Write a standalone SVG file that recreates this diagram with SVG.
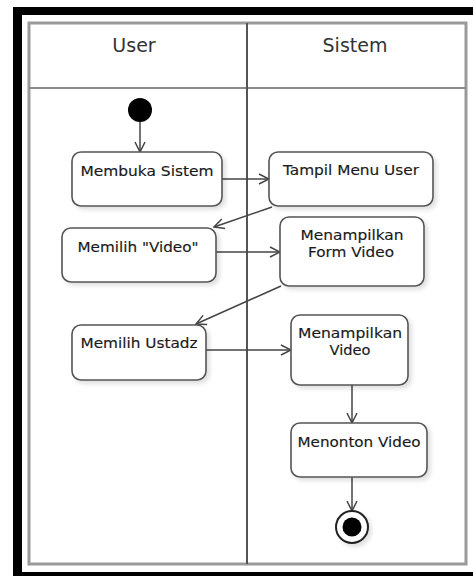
<svg xmlns="http://www.w3.org/2000/svg" width="473" height="576" viewBox="0 0 473 576">
  <style>
    .lane { fill: none; stroke: #9a9a9a; stroke-width: 3; }
    .divider { stroke: #555; stroke-width: 2; }
    .head { font-family: "DejaVu Sans", Verdana, sans-serif; font-size: 19px; fill: #333; text-anchor: middle; }
    .act rect { fill: #fff; stroke: #555; stroke-width: 1.6; filter: url(#shadow); }
    .act text { font-family: "DejaVu Sans", Verdana, sans-serif; font-size: 14px; fill: #1a1a1a; stroke: #1a1a1a; stroke-width: 0.15; text-anchor: middle; }
    .edge { fill: none; stroke: #444; stroke-width: 1.5; marker-end: url(#open); }
  </style>
  <defs>
    <marker id="open" viewBox="0 0 12 12" refX="11" refY="6" markerWidth="12" markerHeight="12" markerUnits="userSpaceOnUse" orient="auto">
      <path d="M1,1 L11,6 L1,11" fill="none" stroke="#444" stroke-width="1.5"/>
    </marker>
    <filter id="shadow" x="-10%" y="-10%" width="125%" height="135%">
      <feDropShadow dx="3" dy="3" stdDeviation="2" flood-color="#000" flood-opacity="0.12"/>
    </filter>
  </defs>

  <rect width="473" height="576" fill="#fff"/>

  <!-- outer frame -->
  <rect x="13" y="7" width="460" height="8" fill="#000"/>
  <rect x="13" y="7" width="9" height="569" fill="#000"/>
  <rect x="13" y="572" width="460" height="4" fill="#000"/>

  <!-- swimlanes -->
  <g id="lanes">
    <rect class="lane" x="29" y="23" width="437" height="541"/>
    <line x1="29" y1="88" x2="466" y2="88" stroke="#8a8a8a" stroke-width="2"/>
    <line class="divider" x1="247" y1="23" x2="247" y2="564"/>
    <text class="head" x="134" y="52">User</text>
    <text class="head" x="355" y="52">Sistem</text>
  </g>

  <!-- connectors -->
  <g id="connectors">
    <line class="edge" x1="140" y1="122" x2="140" y2="152"/>
    <line class="edge" x1="222" y1="179" x2="269" y2="179"/>
    <line class="edge" x1="272" y1="207" x2="214" y2="227"/>
    <line class="edge" x1="216" y1="252" x2="280" y2="252"/>
    <line class="edge" x1="281" y1="286" x2="196" y2="324"/>
    <line class="edge" x1="206" y1="350" x2="291" y2="350"/>
    <line class="edge" x1="352" y1="385" x2="352" y2="423"/>
    <line class="edge" x1="352" y1="477" x2="352" y2="511"/>
  </g>

  <!-- start node -->
  <g id="start">
    <circle cx="140" cy="110" r="12" fill="#000"/>
  </g>

  <g id="membuka-sistem" class="act">
    <rect x="72" y="152" width="150" height="54" rx="9"/>
    <text x="147" y="176" textLength="133" lengthAdjust="spacingAndGlyphs">Membuka Sistem</text>
  </g>

  <g id="tampil-menu-user" class="act">
    <rect x="269" y="152" width="164" height="54" rx="9"/>
    <text x="351" y="175" textLength="136" lengthAdjust="spacingAndGlyphs">Tampil Menu User</text>
  </g>

  <g id="memilih-video" class="act">
    <rect x="62" y="228" width="154" height="54" rx="9"/>
    <text x="138" y="252" textLength="121" lengthAdjust="spacingAndGlyphs">Memilih "Video"</text>
  </g>

  <g id="form-video" class="act">
    <rect x="280" y="217" width="144" height="69" rx="9"/>
    <text x="352" y="240" textLength="103" lengthAdjust="spacingAndGlyphs">Menampilkan</text>
    <text x="351" y="257" textLength="86" lengthAdjust="spacingAndGlyphs">Form Video</text>
  </g>

  <g id="memilih-ustadz" class="act">
    <rect x="72" y="325" width="134" height="55" rx="9"/>
    <text x="139" y="348" textLength="117" lengthAdjust="spacingAndGlyphs">Memilih Ustadz</text>
  </g>

  <g id="menampilkan-video" class="act">
    <rect x="291" y="315" width="117" height="70" rx="9"/>
    <text x="350" y="338" textLength="104" lengthAdjust="spacingAndGlyphs">Menampilkan</text>
    <text x="350" y="355" textLength="41" lengthAdjust="spacingAndGlyphs">Video</text>
  </g>

  <g id="menonton-video" class="act">
    <rect x="291" y="423" width="136" height="54" rx="9"/>
    <text x="359" y="447" textLength="123" lengthAdjust="spacingAndGlyphs">Menonton Video</text>
  </g>

  <!-- end node -->
  <g id="end">
    <circle cx="352" cy="527" r="16" fill="#fff" stroke="#222" stroke-width="2" filter="url(#shadow)"/>
    <circle cx="352" cy="527" r="9.5" fill="#000"/>
  </g>
</svg>
